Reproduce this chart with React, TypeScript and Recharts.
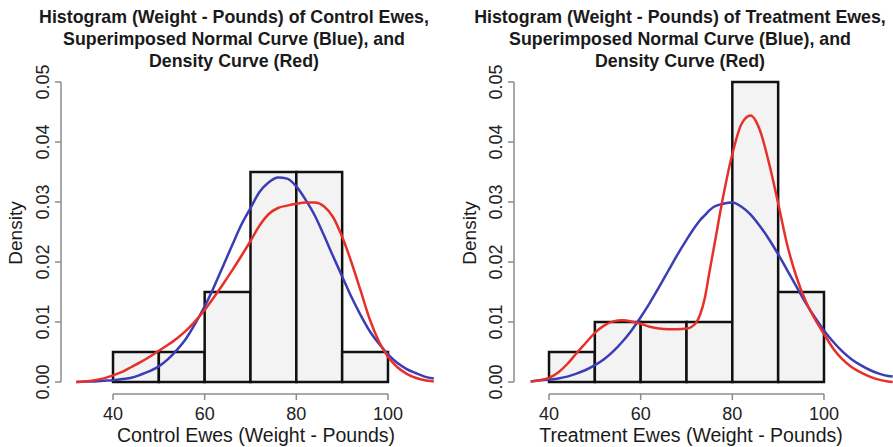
import React from 'react'
import {
  ComposedChart,
  Line,
  XAxis,
  YAxis,
  ReferenceArea,
  ReferenceLine,
} from 'recharts'

// histogram bins (weight, pounds) and their densities
const binEdges = [40, 50, 60, 70, 80, 90, 100]
const controlDensity = [0.005, 0.005, 0.015, 0.035, 0.035, 0.005]
const treatmentDensity = [0.005, 0.01, 0.01, 0.01, 0.05, 0.015]

const xTicks = [40, 60, 80, 100]
const yTicks = [0, 0.01, 0.02, 0.03, 0.04, 0.05]

// control ewes: fitted normal (blue) and kernel density (red)
const controlX = [32, 34, 36, 38, 40, 42, 44, 46, 48, 50, 52, 54, 56, 58, 60, 62, 64, 66, 68, 70, 72, 74, 76, 78, 80, 82, 84, 86, 88, 90, 92, 94, 96, 98, 100, 102, 104, 106, 108, 110]
const controlNormal = [0.0, 0.0001, 0.0001, 0.0002, 0.0003, 0.0005, 0.0007, 0.0012, 0.0018, 0.0026, 0.0038, 0.0054, 0.0073, 0.0098, 0.0126, 0.0158, 0.0193, 0.0228, 0.0262, 0.029, 0.0317, 0.0333, 0.0341, 0.0339, 0.0326, 0.0304, 0.0278, 0.0245, 0.021, 0.0176, 0.0142, 0.0112, 0.0085, 0.0064, 0.0046, 0.0032, 0.0022, 0.0015, 0.0009, 0.0006]
const controlKernel = [0.0, 0.0001, 0.0003, 0.0006, 0.0011, 0.0017, 0.0025, 0.0033, 0.0042, 0.0052, 0.0062, 0.0073, 0.0086, 0.0102, 0.012, 0.0141, 0.0163, 0.0186, 0.021, 0.0235, 0.0261, 0.028, 0.029, 0.0294, 0.0297, 0.0299, 0.0299, 0.0293, 0.0275, 0.0242, 0.02, 0.0153, 0.0105, 0.0068, 0.0042, 0.0025, 0.0014, 0.0007, 0.0003, 0.0001]

// treatment ewes
const treatmentX = [36, 38, 40, 42, 44, 46, 48, 50, 52, 54, 56, 58, 60, 62, 64, 66, 68, 70, 72, 73, 74, 75, 76, 78, 80, 82, 84, 86, 88, 90, 92, 94, 96, 98, 100, 102, 104, 106, 108, 110, 112, 114, 115]
const treatmentNormal = [0.0001, 0.0003, 0.0004, 0.0006, 0.0009, 0.0014, 0.002, 0.0028, 0.0038, 0.0051, 0.0067, 0.0086, 0.0108, 0.0132, 0.0158, 0.0185, 0.0212, 0.0237, 0.026, 0.027, 0.0278, 0.0286, 0.0292, 0.0297, 0.0299, 0.0292, 0.0279, 0.026, 0.0238, 0.0213, 0.0186, 0.0159, 0.0132, 0.0108, 0.0086, 0.0067, 0.0051, 0.0038, 0.0028, 0.002, 0.0014, 0.001, 0.0009]
const treatmentKernel = [0.0001, 0.0003, 0.0007, 0.0016, 0.003, 0.0048, 0.0065, 0.0082, 0.0094, 0.0101, 0.0103, 0.0101, 0.0097, 0.0092, 0.0089, 0.0088, 0.0088, 0.0089, 0.0098, 0.0113, 0.014, 0.0183, 0.0225, 0.0309, 0.038, 0.043, 0.0444, 0.042, 0.0365, 0.0298, 0.0228, 0.0175, 0.0135, 0.0105, 0.008, 0.0056, 0.0038, 0.0025, 0.0016, 0.0009, 0.0004, 0.0001, 0.0]

const toPoints = (xs: number[], ys: number[]) => xs.map((x, i) => ({ x, d: ys[i] }))

const FONT = '"Liberation Sans", Arial, Helvetica, sans-serif'
const BLUE = '#3a3db4'
const RED = '#e8302a'
const AXIS = '#8c8c8c'

const YTick = ({ x, y, payload }: any) => (
  <text
    x={x - 4}
    y={y}
    transform={`rotate(-90 ${x - 4} ${y})`}
    textAnchor="middle"
    fontSize={18}
    fill="#222"
    fontFamily={FONT}
  >
    {Number(payload.value).toFixed(2)}
  </text>
)

interface PanelProps {
  left: number
  width: number
  axisWidth: number
  xDomain: [number, number]
  density: number[]
  normal: { x: number; d: number }[]
  kernel: { x: number; d: number }[]
  title: string[]
  titleCenter: number
  yLabelCenter: number
  xLabel: string
  xLabelCenter: number
}

function Panel(p: PanelProps) {
  const bins = p.density.map((d, i) => ({ x1: binEdges[i], x2: binEdges[i + 1], d }))
  return (
    <div style={{ position: 'absolute', left: p.left, top: 0, width: p.width, height: 447 }}>
      <ComposedChart
        width={p.width}
        height={447}
        margin={{ top: 70, right: 0, bottom: 0, left: 0 }}
      >
        <XAxis
          type="number"
          dataKey="x"
          domain={p.xDomain}
          ticks={xTicks}
          allowDataOverflow
          axisLine={false}
          tickLine={{ stroke: AXIS, strokeWidth: 1.5 }}
          tickSize={6}
          tickMargin={7}
          height={53}
          tick={{ fontSize: 18, fill: '#222', fontFamily: FONT }}
        />
        <YAxis
          type="number"
          domain={[-0.002, 0.052]}
          ticks={yTicks}
          allowDataOverflow
          axisLine={false}
          tickLine={{ stroke: AXIS, strokeWidth: 1.5 }}
          tickSize={6}
          width={p.axisWidth}
          tick={<YTick />}
        />
        <ReferenceLine
          segment={[{ x: 40, y: -0.002 }, { x: 100, y: -0.002 }]}
          stroke={AXIS}
          strokeWidth={1.5}
          ifOverflow="visible"
        />
        <ReferenceLine
          segment={[{ x: p.xDomain[0], y: 0 }, { x: p.xDomain[0], y: 0.05 }]}
          stroke={AXIS}
          strokeWidth={1.5}
          ifOverflow="visible"
        />
        {bins.map((b, i) => (
          <ReferenceArea
            key={i}
            x1={b.x1}
            x2={b.x2}
            y1={0}
            y2={b.d}
            fill="#f3f3f3"
            fillOpacity={1}
            stroke="#111"
            strokeWidth={2.5}
          />
        ))}
        <Line
          data={p.normal}
          dataKey="d"
          type="monotone"
          stroke={BLUE}
          strokeWidth={2.5}
          dot={false}
          isAnimationActive={false}
        />
        <Line
          data={p.kernel}
          dataKey="d"
          type="monotone"
          stroke={RED}
          strokeWidth={2.5}
          dot={false}
          isAnimationActive={false}
        />
      </ComposedChart>
      <div
        style={{
          position: 'absolute',
          left: p.titleCenter - p.left - 250,
          top: 6,
          width: 500,
          textAlign: 'center',
          fontFamily: FONT,
          fontWeight: 'bold',
          fontSize: 17.8,
          lineHeight: '22px',
          color: '#1a1a1a',
        }}
      >
        {p.title.map((t, i) => (
          <div key={i}>{t}</div>
        ))}
      </div>
      <div
        style={{
          position: 'absolute',
          left: p.yLabelCenter - p.left - 50,
          top: 233 - 12,
          width: 100,
          height: 24,
          lineHeight: '24px',
          textAlign: 'center',
          transform: 'rotate(-90deg)',
          fontFamily: FONT,
          fontSize: 19,
          color: '#1a1a1a',
        }}
      >
        Density
      </div>
      <div
        style={{
          position: 'absolute',
          left: p.xLabelCenter - p.left - 200,
          top: 435 - 12,
          width: 400,
          lineHeight: '24px',
          textAlign: 'center',
          fontFamily: FONT,
          fontSize: 19.5,
          color: '#1a1a1a',
          whiteSpace: 'nowrap',
        }}
      >
        {p.xLabel}
      </div>
    </div>
  )
}

export default function App() {
  return (
    <div
      style={{
        position: 'absolute',
        left: 0,
        top: 0,
        width: 893,
        height: 447,
        background: '#fff',
        overflow: 'hidden',
      }}
    >
      <Panel
        left={0}
        width={446}
        axisWidth={61}
        xDomain={[28.65, 112.66]}
        density={controlDensity}
        normal={toPoints(controlX, controlNormal)}
        kernel={toPoints(controlX, controlKernel)}
        title={[
          'Histogram (Weight - Pounds) of Control Ewes,',
          'Superimposed Normal Curve (Blue), and',
          'Density Curve (Red)',
        ]}
        titleCenter={234}
        yLabelCenter={16}
        xLabel="Control Ewes (Weight - Pounds)"
        xLabelCenter={256}
      />
      <Panel
        left={446}
        width={447}
        axisWidth={68}
        xDomain={[32.36, 115.06]}
        density={treatmentDensity}
        normal={toPoints(treatmentX, treatmentNormal)}
        kernel={toPoints(treatmentX, treatmentKernel)}
        title={[
          'Histogram (Weight - Pounds) of Treatment Ewes,',
          'Superimposed Normal Curve (Blue), and',
          'Density Curve (Red)',
        ]}
        titleCenter={680}
        yLabelCenter={470}
        xLabel="Treatment Ewes (Weight - Pounds)"
        xLabelCenter={691}
      />
    </div>
  )
}
